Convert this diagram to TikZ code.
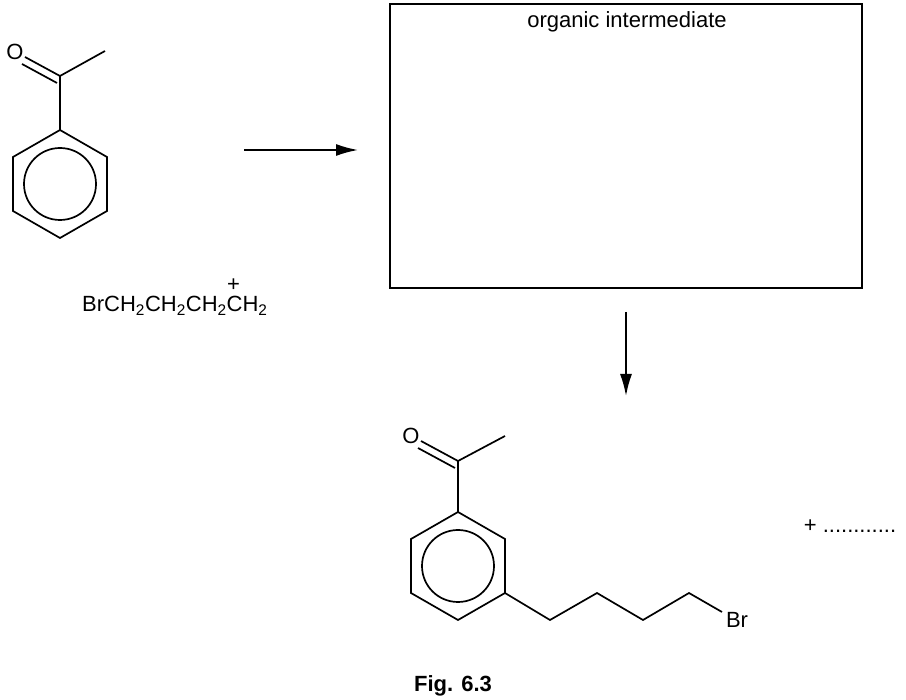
\documentclass[tikz,border=0pt]{standalone}
\usepackage{fontspec}
\setmainfont{Liberation Sans}
\usetikzlibrary{arrows.meta}
\begin{document}
\begin{tikzpicture}[x=1pt,y=-1pt,
  bond/.style={line width=1.7pt},
  rxn/.style={line width=1.7pt,-{Latex[length=22pt,width=12pt]}},
  lab/.style={inner sep=0pt,font=\fontsize{22pt}{25pt}\selectfont}]
\useasboundingbox (0,0) rectangle (906,700);
% top molecule
\node[lab] (o1) at (15,52) {O};
\coordinate (c1) at (60,76);
\coordinate (m1) at (105,51);
\draw[bond] (25,57) -- (c1) -- (m1);
\draw[bond] (22,64) -- (57,83);
\draw[bond] (c1) -- (60,130);
\draw[bond] (60,130) -- (107,157) -- (107,211) -- (60,238) -- (13,211) -- (13,157) -- cycle;
\draw[bond] (60,184) circle (36);
\node[lab,anchor=west] (reag) at (82,297) {BrCH\textsubscript{2}CH\textsubscript{2}CH\textsubscript{2}C\rlap{\raisebox{1.7ex}{\kern-0.7em+}}H\textsubscript{2}};
% arrow and box
\coordinate (a1) at (244,150);
\coordinate (a2) at (358,150);
\draw[rxn] (a1) -- (a2);
\draw[line width=1.7pt] (390,4) rectangle (862,288);
\node[lab] (boxlab) at (627,22) {organic intermediate};
\coordinate (a3) at (626,312);
\coordinate (a4) at (626,396);
\draw[rxn] (a3) -- (a4);
% bottom molecule
\node[lab] (o2) at (411,436) {O};
\coordinate (c2) at (458,461);
\draw[bond] (421,441) -- (c2) -- (505,436);
\draw[bond] (418,448) -- (455,468);
\draw[bond] (c2) -- (458,512);
\draw[bond] (458,512) -- (505,539) -- (505,593) -- (458,620) -- (411,593) -- (411,539) -- cycle;
\draw[bond] (458,566) circle (36);
\draw[bond] (505,593) -- (550,620) -- (597,593) -- (643,620) -- (689,593) -- (722,612);
\node[lab] (br) at (737,620) {Br};
\node[lab] (plus) at (850,526) {+ ............};
\node[lab,font=\bfseries\fontsize{22pt}{25pt}\selectfont] (fig) at (453,686) {Fig. 6.3};
\end{tikzpicture}
\end{document}
